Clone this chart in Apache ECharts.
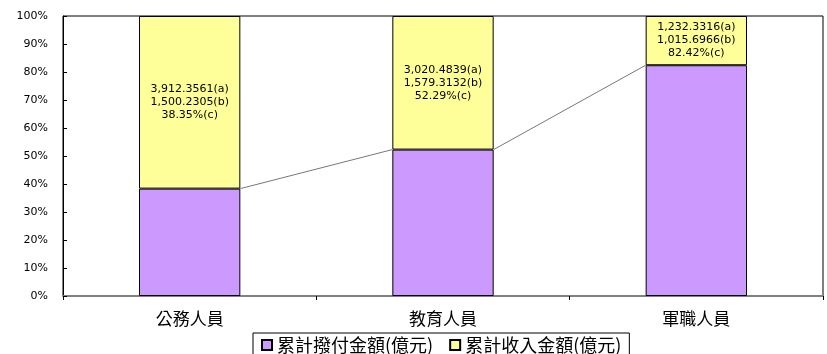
<!DOCTYPE html>
<html>
<head>
<meta charset="utf-8">
<script src="https://cdn.jsdelivr.net/npm/echarts@6/dist/echarts.min.js"></script>
<style>
  html, body { margin: 0; padding: 0; background: #fff; }
  #main { width: 827px; height: 354px; }
</style>
</head>
<body>
<div id="main"></div>
<script>
// 分類
var categories = ["公務人員", "教育人員", "軍職人員"];
// 累計收入金額 (a)
var incomeA = [3912.3561, 3020.4839, 1232.3316];
// 累計撥付金額 (b)
var payoutB = [1500.2305, 1579.3132, 1015.6966];
// 撥付比率 (c) = b / a
var ratioC = [38.35, 52.29, 82.42];
var seriesNames = ["累計撥付金額(億元)", "累計收入金額(億元)"];
var yTicks = [0, 10, 20, 30, 40, 50, 60, 70, 80, 90, 100];

var fmt = function (v) {
  return v.toLocaleString("en-US", { minimumFractionDigits: 4, maximumFractionDigits: 4 });
};

var purpleData = ratioC.slice();
var yellowData = ratioC.map(function (v) { return +(100 - v).toFixed(2); });
// 連接線資料：[index, 本項, 下一項]
var linkData = [];
for (var i = 0; i < ratioC.length - 1; i++) {
  linkData.push([i, ratioC[i], ratioC[i + 1]]);
}

var myChart = echarts.init(document.getElementById("main"));
myChart.setOption({
  animation: false,
  grid: {
    left: 63,
    right: 4,
    top: 16,
    bottom: 58,
    show: true,
    borderColor: "#000",
    borderWidth: 1
  },
  legend: {
    data: seriesNames,
    left: 253,
    top: 333,
    padding: [3, 8, 3, 8],
    borderColor: "#000",
    borderWidth: 1,
    itemWidth: 10,
    itemHeight: 10,
    itemGap: 16,
    icon: "rect",
    textStyle: {
      fontFamily: "Noto Sans CJK TC",
      fontSize: 18,
      color: "#000"
    }
  },
  xAxis: {
    type: "category",
    data: categories,
    axisLine: { lineStyle: { color: "#808080", width: 2 } },
    axisTick: { show: true, length: 4, lineStyle: { color: "#000" } },
    axisLabel: {
      margin: 14,
      fontFamily: "Noto Sans CJK TC",
      fontSize: 17,
      color: "#000"
    }
  },
  yAxis: {
    type: "value",
    min: yTicks[0],
    max: yTicks[yTicks.length - 1],
    interval: 10,
    splitLine: { show: false },
    axisLine: { show: true, lineStyle: { color: "#000" } },
    axisTick: { show: true, inside: true, length: 4, lineStyle: { color: "#000" } },
    axisLabel: {
      formatter: "{value}%",
      margin: 15,
      fontFamily: "DejaVu Sans",
      fontSize: 11,
      color: "#000"
    }
  },
  series: [
    {
      name: seriesNames[0],
      type: "bar",
      stack: "total",
      barWidth: "40%",
      data: purpleData,
      itemStyle: { color: "#CC99FF", borderColor: "#000", borderWidth: 1 }
    },
    {
      name: seriesNames[1],
      type: "bar",
      stack: "total",
      barWidth: "40%",
      data: yellowData,
      itemStyle: { color: "#FFFF99", borderColor: "#000", borderWidth: 1 },
      label: {
        show: true,
        position: "inside",
        fontFamily: "DejaVu Sans",
        fontSize: 11,
        lineHeight: 13,
        color: "#000",
        formatter: function (p) {
          var k = p.dataIndex;
          return fmt(incomeA[k]) + "(a)\n" + fmt(payoutB[k]) + "(b)\n" + ratioC[k].toFixed(2) + "%(c)";
        }
      }
    },
    {
      // 數列線
      type: "custom",
      silent: true,
      z: 1,
      data: linkData,
      renderItem: function (params, api) {
        var half = api.size([1, 0])[0] * 0.4 / 2;
        var p1 = api.coord([api.value(0), api.value(1)]);
        var p2 = api.coord([api.value(0) + 1, api.value(2)]);
        return {
          type: "line",
          shape: { x1: p1[0] + half, y1: p1[1], x2: p2[0] - half, y2: p2[1] },
          style: { stroke: "#777", lineWidth: 1 }
        };
      }
    }
  ]
});
</script>
</body>
</html>
